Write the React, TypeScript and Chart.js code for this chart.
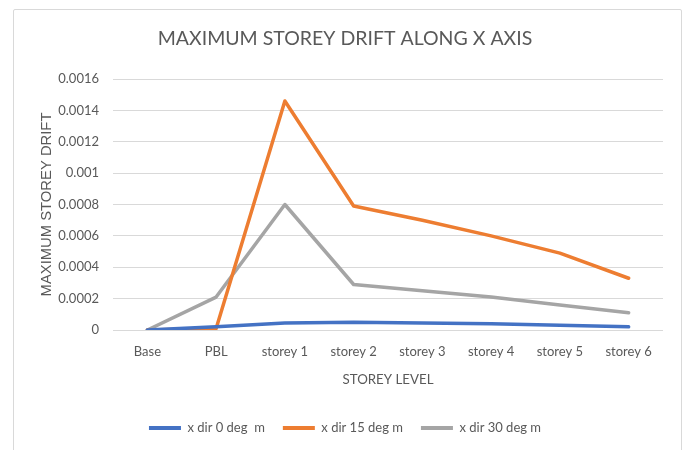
import React, { useEffect, useRef } from "react";
import { Chart, registerables } from "chart.js";

Chart.register(...registerables);

const categories = ["Base", "PBL", "storey 1", "storey 2", "storey 3", "storey 4", "storey 5", "storey 6"];
const seriesNames = ["x dir 0 deg  m", "x dir 15 deg m", "x dir 30 deg m"];
const dir0 = [0, 0.00002, 0.000045, 0.00005, 0.000045, 0.00004, 0.00003, 0.00002];
const dir15 = [0, 0.00001, 0.00146, 0.00079, 0.0007, 0.0006, 0.00049, 0.00033];
const dir30 = [0, 0.00021, 0.0008, 0.00029, 0.00025, 0.00021, 0.00016, 0.00011];
const seriesColors = ["#4472C4", "#ED7D31", "#A5A5A5"];
const yMax = 0.0016;
const yStep = 0.0002;

const FONT = "Lato, 'Open Sans', sans-serif";
const WIDE_FONT = "'Liberation Sans', Arial, sans-serif";
const TEXT = "#595959";

export default function App() {
  const ref = useRef<HTMLCanvasElement | null>(null);

  useEffect(() => {
    if (!ref.current) return;
    const values = [dir0, dir15, dir30];
    const chart = new Chart(ref.current, {
      type: "line",
      data: {
        labels: categories,
        datasets: values.map((v, i) => ({
          label: seriesNames[i],
          data: v,
          borderColor: seriesColors[i],
          backgroundColor: seriesColors[i],
          borderWidth: 3.5,
          pointRadius: 0,
          tension: 0,
          borderCapStyle: "round" as const,
          borderJoinStyle: "round" as const,
        })),
      },
      options: {
        animation: false,
        responsive: false,
        layout: { padding: { left: 27, right: 20, top: 0, bottom: 5.5 } },
        plugins: {
          title: {
            display: true,
            text: "MAXIMUM STOREY DRIFT ALONG X AXIS",
            color: TEXT,
            font: { family: FONT, size: 19.5, weight: "normal" },
            padding: { top: 27, bottom: 28.6 },
          },
          legend: {
            position: "bottom",
            labels: {
              color: TEXT,
              font: { family: FONT, size: 13 },
              boxWidth: 32,
              boxHeight: 4,
              padding: 18,
              generateLabels: (c: any) =>
                c.data.datasets.map((d: any, i: number) => ({
                  text: d.label,
                  fillStyle: d.borderColor,
                  strokeStyle: d.borderColor,
                  lineWidth: 0,
                  fontColor: TEXT,
                  hidden: false,
                  datasetIndex: i,
                })),
            },
          },
          tooltip: { enabled: false },
        },
        scales: {
          x: {
            offset: true,
            grid: { display: false, drawTicks: false },
            border: { display: false },
            ticks: { color: TEXT, font: { family: FONT, size: 13 }, padding: 14 },
            title: {
              display: true,
              text: "STOREY LEVEL",
              color: TEXT,
              font: { family: FONT, size: 13.3 },
              padding: { top: 0, bottom: 15.5 },
            },
            afterFit: (s: any) => {
              s.height = 73.5;
            },
          },
          y: {
            min: 0,
            max: yMax,
            grid: { color: "#d9d9d9", lineWidth: 1, drawTicks: false },
            border: { display: false },
            ticks: {
              stepSize: yStep,
              color: TEXT,
              font: { family: FONT, size: 13 },
              padding: 14,
              callback: (v: any) => Number(Number(v).toFixed(4)).toString(),
            },
            title: {
              display: true,
              text: "MAXIMUM STOREY DRIFT",
              color: TEXT,
              font: { family: WIDE_FONT, size: 14.8 },
              padding: { top: 11, bottom: 0 },
            },
            afterFit: (s: any) => {
              s.width = 86;
            },
          },
        },
      },
    });
    return () => chart.destroy();
  }, []);

  return (
    <div style={{ position: "fixed", left: 0, top: 0, width: 683, height: 450, background: "#fff", overflow: "hidden" }}>
      <div
        style={{
          position: "absolute",
          left: 13,
          top: 9,
          width: 667,
          height: 470,
          border: "1px solid #d9d9d9",
          borderRadius: 2,
        }}
      />
      <canvas ref={ref} width={683} height={450} style={{ position: "absolute", left: 0, top: 0 }} />
    </div>
  );
}
